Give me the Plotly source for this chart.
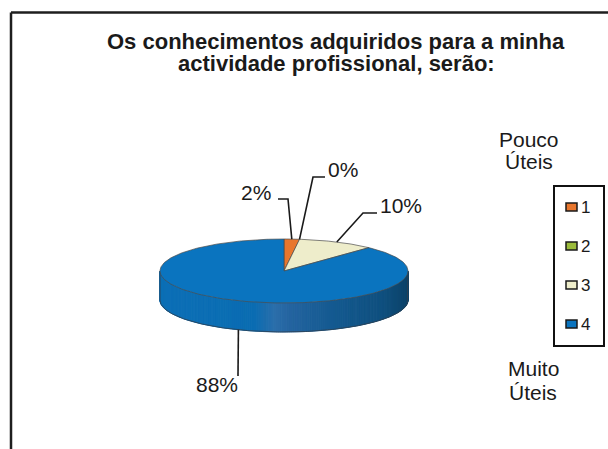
import numpy as np
import plotly.graph_objects as go

# ---------------- data ----------------
categories = ["1", "2", "3", "4"]
values = [2, 0, 10, 88]
pct_labels = ["2%", "0%", "10%", "88%"]
title_lines = ["Os conhecimentos adquiridos para a minha", "actividade profissional, serão:"]
top_note = ["Pouco", "Úteis"]
bottom_note = ["Muito", "Úteis"]

# ---------------- style / layout ----------------
slice_colors = ["#E8762D", "#9BBB3B", "#EEEDCB", "#0A74BF"]
W, H = 608, 449
cx, cy, rx, ry, depth = 284, 271, 124, 32, 29
FONT = "Liberation Sans, Arial, sans-serif"

# label positions (text centre) and leader elbows
label_pos = [(256, 192), (343, 169), (401, 205), (217, 384)]
label_elbow = [[(288, 199), (278, 199)], [(313, 177), (325, 177)],
               [(363, 213), (377, 213)], [(238, 376)]]

total = float(sum(values))
fr = np.array(values) / total
ends = np.cumsum(fr) * 360.0
starts = ends - fr * 360.0


def pt(theta, dy=0.0):
    t = np.radians(theta)
    return cx + rx * np.sin(t), cy - ry * np.cos(t) + dy


def lerp_hex(stops, u):
    for (u0, c0), (u1, c1) in zip(stops[:-1], stops[1:]):
        if u0 <= u <= u1:
            f = (u - u0) / (u1 - u0) if u1 > u0 else 0
            a = [int(c0[i:i + 2], 16) for i in (1, 3, 5)]
            b = [int(c1[i:i + 2], 16) for i in (1, 3, 5)]
            return "#%02x%02x%02x" % tuple(int(round(a[k] + (b[k] - a[k]) * f)) for k in range(3))
    return stops[-1][1]


side_stops = [(0.0, "#0C6FB6"), (0.38, "#0B6DB2"), (0.46, "#2B6EAA"), (0.52, "#2464A0"),
              (0.70, "#145A90"), (0.90, "#0F4F7E"), (1.0, "#0B4268")]

fig = go.Figure()

# ---- side wall (front half, angles 90..270 clockwise from top) ----
for i, v in enumerate(values):
    a0, a1 = max(starts[i], 90.0), min(ends[i], 270.0)
    if a1 <= a0:
        continue
    n = int(np.ceil((a1 - a0) / 1.0))
    th = np.linspace(a0, a1, n + 1)
    for k in range(n):
        xa, ya = pt(th[k])
        xb, yb = pt(th[k + 1])
        xm = 0.5 * (xa + xb)
        u = (xm - (cx - rx)) / (2 * rx)
        c = lerp_hex(side_stops, u) if i == 3 else slice_colors[i]
        fig.add_trace(go.Scatter(
            x=[xa, xb, xb, xa, xa], y=[ya, yb, yb + depth, ya + depth, ya],
            mode="lines", fill="toself", fillcolor=c,
            line=dict(color=c, width=1), hoverinfo="skip", showlegend=False))

# side outline
th = np.linspace(90, 270, 181)
bx, by = pt(th, depth)
lx0, ly0 = pt(270.0)
rx0, ry0 = pt(90.0)
fig.add_trace(go.Scatter(x=[rx0] + list(bx) + [lx0], y=[ry0] + list(by) + [ly0], mode="lines",
                         line=dict(color="#2f3f4f", width=0.8), hoverinfo="skip", showlegend=False))

# ---- top face slices ----
for i, v in enumerate(values):
    if v <= 0:
        continue
    th = np.linspace(starts[i], ends[i], max(int((ends[i] - starts[i]) / 1.0), 2) + 1)
    xs, ys = pt(th)
    fig.add_trace(go.Scatter(
        x=[cx] + list(xs) + [cx], y=[cy] + list(ys) + [cy],
        mode="lines", fill="toself", fillcolor=slice_colors[i],
        line=dict(color="#4a4a4a", width=0.7), hoverinfo="skip", showlegend=False))

# ---- leader lines + labels ----
annotations = []
shapes = []
for i, lab in enumerate(pct_labels):
    mid = 0.5 * (starts[i] + ends[i]) if values[i] > 0 else starts[i]
    if 90 < mid < 270:
        ax, ay = pt(mid, depth)
    else:
        ax, ay = pt(mid)
    pts = [(ax, ay)] + label_elbow[i]
    path = "M " + " L ".join("%.1f,%.1f" % p for p in pts)
    shapes.append(dict(type="path", path=path, xref="x", yref="y",
                       line=dict(color="#1a1a1a", width=1.6)))
    annotations.append(dict(x=label_pos[i][0], y=label_pos[i][1], xref="x", yref="y",
                            text=lab, showarrow=False, xanchor="center", yanchor="middle",
                            font=dict(family=FONT, size=21, color="#1a1a1a")))

# title
for j, line in enumerate(title_lines):
    annotations.append(dict(x=336, y=41 + 22 * j, xref="x", yref="y", text="<b>%s</b>" % line,
                            showarrow=False, xanchor="center", yanchor="middle",
                            font=dict(family=FONT, size=22, color="#1a1a1a")))

# Pouco / Muito notes
for j, t in enumerate(top_note):
    annotations.append(dict(x=529, y=139 + 22 * j, xref="x", yref="y", text=t, showarrow=False,
                            xanchor="center", yanchor="middle",
                            font=dict(family=FONT, size=21, color="#1a1a1a")))
for j, t in enumerate(bottom_note):
    annotations.append(dict(x=533, y=368 + 24 * j, xref="x", yref="y", text=t, showarrow=False,
                            xanchor="center", yanchor="middle",
                            font=dict(family=FONT, size=21, color="#1a1a1a")))

# legend box
lg_x0, lg_y0, lg_x1, lg_y1 = 554, 186, 604, 346
shapes.append(dict(type="rect", xref="x", yref="y", x0=lg_x0, y0=lg_y0, x1=lg_x1, y1=lg_y1,
                   line=dict(color="#111111", width=2), fillcolor="rgba(0,0,0,0)"))
for k, cat in enumerate(categories):
    yc = 207 + 39 * k
    shapes.append(dict(type="rect", xref="x", yref="y", x0=566, y0=yc - 4, x1=577, y1=yc + 4,
                       line=dict(color="#1a1a1a", width=1.5), fillcolor=slice_colors[k]))
    annotations.append(dict(x=579, y=yc, xref="x", yref="y", text=cat, showarrow=False,
                            xanchor="left", yanchor="middle",
                            font=dict(family=FONT, size=17, color="#1a1a1a")))

# outer border (top and left visible)
shapes.append(dict(type="line", xref="x", yref="y", x0=11, y0=12.5, x1=W + 20, y1=12.5,
                   line=dict(color="#1e1e1e", width=2.5)))
shapes.append(dict(type="line", xref="x", yref="y", x0=11, y0=12.5, x1=11, y1=H + 20,
                   line=dict(color="#1e1e1e", width=2.5)))

fig.update_layout(
    width=W, height=H, margin=dict(l=0, r=0, t=0, b=0),
    paper_bgcolor="white", plot_bgcolor="white",
    xaxis=dict(range=[0, W], visible=False, fixedrange=True),
    yaxis=dict(range=[H, 0], visible=False, fixedrange=True),
    showlegend=False, shapes=shapes, annotations=annotations,
)

fig.write_html("out.html", config={"displayModeBar": False},
               post_script="document.body.style.margin='0px';document.body.style.overflow='hidden';")
